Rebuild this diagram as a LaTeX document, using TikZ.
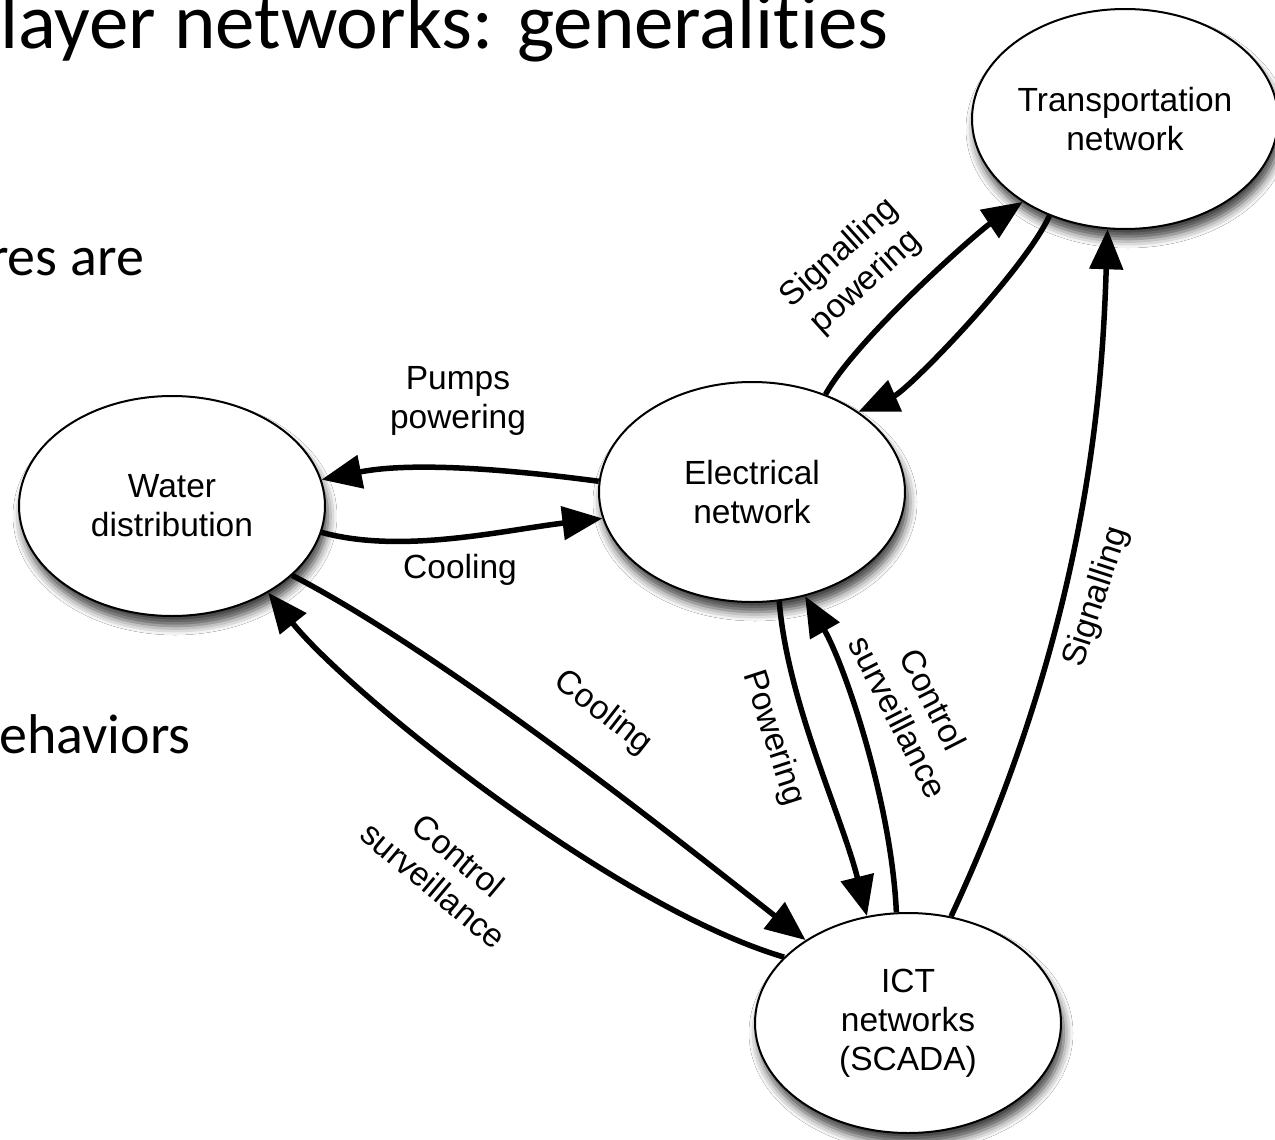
\documentclass[tikz,border=0pt]{standalone}
\usepackage{fontspec}
\setmainfont{Liberation Sans}
\newfontfamily\slidefont[Ligatures=NoCommon]{Carlito}
\usetikzlibrary{arrows.meta,shapes.geometric,shadows.blur}

\begin{document}
\begin{tikzpicture}[x=1pt,y=-1pt,
  netnode/.style={ellipse, draw=black, line width=2pt, fill=white,
    minimum width=306pt, minimum height=220pt, inner sep=0pt, align=center,
    font=\fontsize{33.5}{39}\selectfont,
    blur shadow={shadow xshift=3pt, shadow yshift=-10pt,
      shadow blur radius=9pt, shadow opacity=75}},
  link/.style={line width=5.5pt, -{Triangle[length=40pt,width=33pt]}},
  lbl/.style={font=\fontsize{33.5}{39}\selectfont, align=center, inner sep=0pt},
  slide/.style={inner sep=0pt, font=\slidefont},
]
\useasboundingbox (0,0) rectangle (1275,1140);
\fill[white] (0,0) rectangle (1275,1140);
\clip (0,0) rectangle (1275,1140);

% slide text around the figure
\node[slide, anchor=base west, font=\slidefont\fontsize{79}{90}\selectfont] (title) at (0,49) {layer networks: generalities};
\node[slide, anchor=base east, font=\slidefont\fontsize{56}{66}\selectfont] (bodya) at (144,275) {res are};
\node[slide, anchor=base west, font=\slidefont\fontsize{56}{66}\selectfont] (bodyb) at (-1,753) {ehaviors};

% infrastructure networks
\node[netnode] (trans) at (1125,119) {Transportation\\network};
\node[netnode] (water) at (172,506) {Water\\distribution};
\node[netnode] (elec)  at (752,492) {Electrical\\network};
\node[netnode] (ict)   at (908,1023) {ICT\\networks\\(SCADA)};

% dependencies
\draw[link] (elec.176) .. controls +(-90,-12) and +(90,-18) .. (water.10.6);
\draw[link] (water.-10) .. controls +(80,22) and +(-100,12) .. (elec.190);
\draw[link] (elec.53) .. controls +(30,-55) and +(-45,30) .. (trans.219.5);
\draw[link] (trans.232.7) .. controls +(-25,55) and +(50,-22) .. (elec.37);
\draw[link] (ict.68.7) .. controls +(140,-300) and +(-5,150) .. (trans.261);
\draw[link] (elec.284) .. controls +(8,100) and +(-25,-100) .. (ict.111);
\draw[link] (ict.96.7) .. controls +(-5,-110) and +(40,70) .. (elec.297.6);
\draw[link] (water.-30.3) .. controls +(150,78) and +(-150,-118) .. (ict.141.8);
\draw[link] (ict.152.5) .. controls +(-170,-50) and +(80,100) .. (water.-42);

% dependency labels
\node[lbl] (lpump) at (458,401) {Pumps\\powering};
\node[lbl] (lcool) at (460,570) {Cooling};
\node[lbl, rotate=42] (lsigpow) at (853,268) {Signalling\\powering};
\node[lbl, rotate=72] (lsig) at (1097,597) {Signalling};
\node[lbl, rotate=-72] (lpow) at (773,738) {Powering};
\node[lbl, rotate=-63] (lctrlr) at (916,708) {Control\\surveillance};
\node[lbl, rotate=-38] (lcoold) at (603,713) {Cooling};
\node[lbl, rotate=-40] (lctrll) at (446,870) {Control\\surveillance};
\end{tikzpicture}
\end{document}
